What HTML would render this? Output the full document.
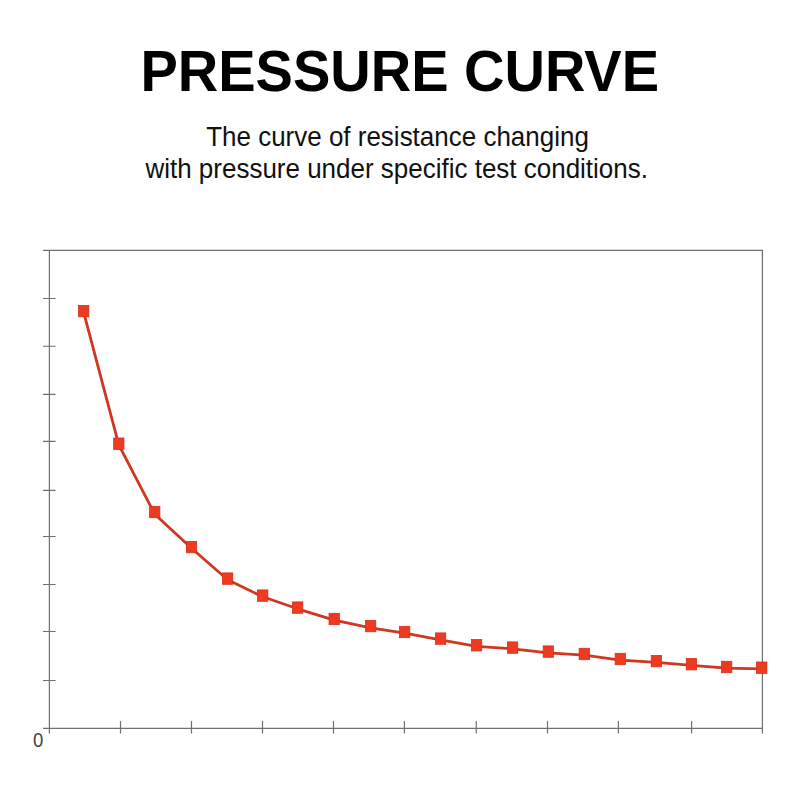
<!DOCTYPE html>
<html><head><meta charset="utf-8"><style>
html,body{margin:0;padding:0;background:#fff;}
body{width:800px;height:800px;overflow:hidden;position:relative;font-family:"Liberation Sans",sans-serif;}
svg{position:absolute;left:0;top:0;}
</style></head><body>
<svg width="800" height="800" viewBox="0 0 800 800">
<g font-family="Liberation Sans" text-anchor="middle">
<g transform="translate(399.75,90.6) scale(1,1.03)"><text x="0" y="0" font-weight="bold" font-size="56" fill="#000">PRESSURE CURVE</text></g>
<g transform="translate(397.5,146) scale(1,1.035)"><text x="0" y="0" font-size="26" fill="#111">The curve of resistance changing</text></g>
<g transform="translate(396.7,178.3) scale(1,1.035)"><text x="0" y="0" font-size="26" fill="#111">with pressure under specific test conditions.</text></g>
<g transform="translate(38.25,746.7) scale(1,1.05)"><text x="0" y="0" font-size="18.5" fill="#444">0</text></g>
</g>
<g stroke="#707070" stroke-width="1.2" fill="none">
<path d="M43 250.4H762.4V733.5 M49.4 250.4V733.5 M43 728.45H762.4"/>
<path d="M43 298.50H55.6 M43 346.25H55.6 M43 394.40H55.6 M43 441.30H55.6 M43 490.30H55.6 M43 536.50H55.6 M43 584.50H55.6 M43 631.50H55.6 M43 680.50H55.6 M120.50 721V733.5 M191.50 721V733.5 M262.50 721V733.5 M333.50 721V733.5 M404.40 721V733.5 M476.25 721V733.5 M547.50 721V733.5 M618.40 721V733.5 M691.60 721V733.5"/>
</g>
<polyline points="83.70,312.30 118.80,444.90 154.75,514.20 191.55,548.30 227.60,579.80 262.70,596.80 297.65,608.80 334.20,620.20 370.65,627.85 404.65,633.20 440.60,639.80 476.60,646.45 512.60,648.80 548.30,652.80 584.30,655.20 620.30,660.20 656.40,662.30 691.40,665.40 726.70,668.20 761.75,668.90" fill="none" stroke="#cf3720" stroke-width="2.8" stroke-linejoin="round"/>
<g fill="#ee3a20" stroke="#d2321c" stroke-width="0.8">
<rect x="78.55" y="305.40" width="10.3" height="11.4"/>
<rect x="113.65" y="438.00" width="10.3" height="11.4"/>
<rect x="149.60" y="506.30" width="10.3" height="11.4"/>
<rect x="186.40" y="541.40" width="10.3" height="11.4"/>
<rect x="222.45" y="572.90" width="10.3" height="11.4"/>
<rect x="257.55" y="589.90" width="10.3" height="11.4"/>
<rect x="292.50" y="601.90" width="10.3" height="11.4"/>
<rect x="329.05" y="613.30" width="10.3" height="11.4"/>
<rect x="365.50" y="620.35" width="10.3" height="11.4"/>
<rect x="399.50" y="626.30" width="10.3" height="11.4"/>
<rect x="435.45" y="632.90" width="10.3" height="11.4"/>
<rect x="471.45" y="639.55" width="10.3" height="11.4"/>
<rect x="507.45" y="641.90" width="10.3" height="11.4"/>
<rect x="543.15" y="645.90" width="10.3" height="11.4"/>
<rect x="579.15" y="648.30" width="10.3" height="11.4"/>
<rect x="615.15" y="653.30" width="10.3" height="11.4"/>
<rect x="651.25" y="655.40" width="10.3" height="11.4"/>
<rect x="686.25" y="658.50" width="10.3" height="11.4"/>
<rect x="721.55" y="661.30" width="10.3" height="11.4"/>
<rect x="756.60" y="662.00" width="10.3" height="11.4"/>
</g>
</svg>
</body></html>
